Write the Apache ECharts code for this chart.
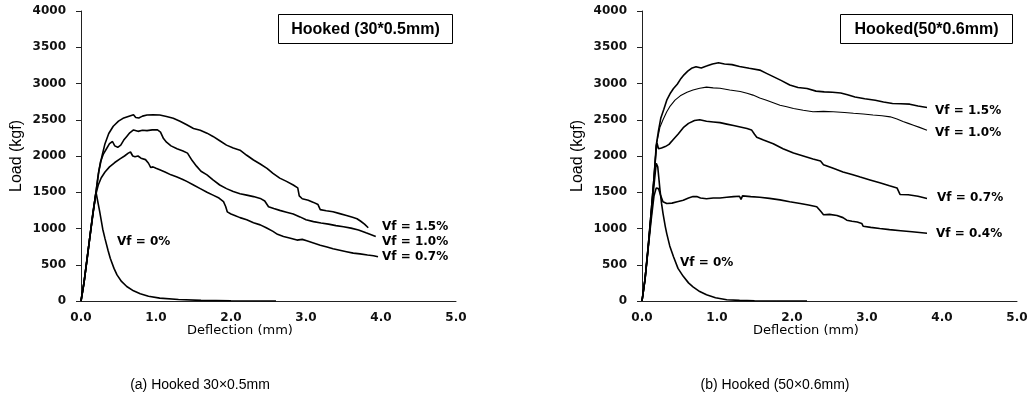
<!DOCTYPE html>
<html>
<head>
<meta charset="utf-8">
<script src="https://cdn.jsdelivr.net/npm/echarts@6/dist/echarts.min.js"></script>
<style>
  html, body { margin: 0; padding: 0; background: #fff; }
  #chart { width: 1035px; height: 407px; }
</style>
</head>
<body>
<div id="chart"></div>
<script>
// axis ticks
const xTicks = ['0.0', '1.0', '2.0', '3.0', '4.0', '5.0']
const yTicks = [0, 500, 1000, 1500, 2000, 2500, 3000, 3500, 4000]

// (a) Hooked 30x0.5mm : [deflection mm, load kgf]
const a00 = [[0, 0], [0.04, 260], [0.08, 580], [0.12, 900], [0.16, 1220], [0.2, 1500], [0.22, 1520], [0.25, 1230],
  [0.29, 990], [0.32, 860], [0.36, 700], [0.39, 590], [0.44, 450], [0.48, 360], [0.54, 270], [0.61, 200], [0.7, 140],
  [0.79, 100], [0.9, 65], [1.05, 40], [1.3, 20], [1.6, 8], [2.0, 3], [2.6, 0]]
const a07 = [[0, 0], [0.04, 250], [0.08, 570], [0.12, 890], [0.16, 1200], [0.2, 1480], [0.23, 1600], [0.27, 1700],
  [0.32, 1780], [0.38, 1850], [0.45, 1910], [0.52, 1960], [0.58, 2000], [0.63, 2040], [0.66, 2055], [0.69, 2000],
  [0.72, 1990], [0.76, 2000], [0.8, 1970], [0.86, 1950], [0.9, 1900], [0.93, 1840], [0.96, 1850], [1.0, 1830],
  [1.05, 1810], [1.12, 1780], [1.2, 1740], [1.28, 1710], [1.35, 1680], [1.41, 1650], [1.5, 1600], [1.59, 1550],
  [1.68, 1500], [1.76, 1460], [1.84, 1420], [1.9, 1370], [1.93, 1300], [1.95, 1230], [2.0, 1200], [2.05, 1180],
  [2.12, 1150], [2.21, 1120], [2.3, 1080], [2.39, 1050], [2.47, 1010], [2.56, 960], [2.62, 920], [2.7, 890],
  [2.78, 870], [2.88, 840], [2.95, 850], [3.01, 830], [3.1, 800], [3.19, 770], [3.28, 745], [3.36, 720], [3.45, 700],
  [3.54, 680], [3.63, 660], [3.72, 650], [3.82, 635], [3.9, 625], [3.96, 610]]
const a10 = [[0, 0], [0.04, 250], [0.08, 570], [0.12, 900], [0.16, 1220], [0.2, 1500], [0.23, 1750], [0.26, 1920],
  [0.3, 2030], [0.34, 2100], [0.38, 2170], [0.42, 2200], [0.45, 2140], [0.49, 2120], [0.53, 2150], [0.57, 2220],
  [0.61, 2270], [0.65, 2320], [0.7, 2360], [0.76, 2340], [0.82, 2355], [0.88, 2350], [0.95, 2360], [1.02, 2360],
  [1.06, 2330], [1.1, 2240], [1.14, 2190], [1.2, 2140], [1.28, 2100], [1.36, 2070], [1.42, 2040], [1.48, 1940],
  [1.54, 1860], [1.6, 1790], [1.68, 1740], [1.76, 1670], [1.85, 1600], [1.94, 1550], [2.03, 1510], [2.12, 1480],
  [2.21, 1460], [2.3, 1440], [2.39, 1415], [2.45, 1380], [2.5, 1300], [2.57, 1275], [2.65, 1250], [2.74, 1225],
  [2.83, 1200], [2.92, 1160], [3.0, 1120], [3.1, 1095], [3.2, 1075], [3.3, 1060], [3.4, 1040], [3.5, 1025],
  [3.6, 1005], [3.7, 980], [3.8, 940], [3.93, 890]]
const a15 = [[0, 0], [0.04, 250], [0.08, 570], [0.12, 900], [0.16, 1220], [0.2, 1510], [0.24, 1800], [0.28, 2000],
  [0.32, 2170], [0.37, 2310], [0.43, 2410], [0.5, 2480], [0.56, 2520], [0.63, 2545], [0.7, 2570], [0.73, 2530],
  [0.77, 2525], [0.82, 2550], [0.88, 2565], [0.96, 2570], [1.05, 2565], [1.14, 2545], [1.23, 2520], [1.32, 2480],
  [1.41, 2430], [1.5, 2380], [1.59, 2355], [1.68, 2315], [1.76, 2270], [1.85, 2210], [1.94, 2150], [2.03, 2110],
  [2.12, 2080], [2.21, 2010], [2.3, 1945], [2.39, 1890], [2.48, 1830], [2.56, 1760], [2.65, 1695], [2.74, 1650],
  [2.83, 1600], [2.89, 1560], [2.91, 1450], [2.95, 1410], [3.03, 1390], [3.1, 1360], [3.16, 1330], [3.19, 1260],
  [3.27, 1245], [3.36, 1230], [3.45, 1205], [3.54, 1180], [3.62, 1155], [3.68, 1135], [3.73, 1100], [3.78, 1060],
  [3.83, 1010]]

// (b) Hooked 50x0.6mm
const b00 = [[0, 0], [0.04, 300], [0.08, 720], [0.12, 1150], [0.16, 1600], [0.19, 1900], [0.21, 1850], [0.24, 1530],
  [0.26, 1350], [0.28, 1210], [0.31, 1030], [0.33, 930], [0.37, 760], [0.42, 610], [0.48, 450], [0.55, 340],
  [0.62, 250], [0.68, 195], [0.77, 130], [0.86, 85], [0.98, 45], [1.13, 18], [1.3, 8], [1.5, 3], [1.8, 0], [2.2, 0]]
const b04 = [[0, 0], [0.04, 290], [0.08, 700], [0.12, 1100], [0.16, 1450], [0.19, 1560], [0.22, 1550], [0.25, 1450],
  [0.28, 1370], [0.33, 1345], [0.4, 1350], [0.47, 1370], [0.55, 1390], [0.62, 1420], [0.68, 1440], [0.73, 1440],
  [0.78, 1420], [0.86, 1410], [0.95, 1420], [1.04, 1420], [1.13, 1430], [1.22, 1440], [1.3, 1445], [1.32, 1400],
  [1.34, 1450], [1.45, 1440], [1.57, 1430], [1.7, 1415], [1.84, 1395], [1.97, 1370], [2.11, 1345], [2.22, 1325],
  [2.33, 1300], [2.38, 1240], [2.42, 1190], [2.5, 1195], [2.6, 1180], [2.68, 1150], [2.73, 1115], [2.8, 1100],
  [2.87, 1090], [2.93, 1070], [2.95, 1030], [3.05, 1015], [3.17, 1000], [3.3, 985], [3.45, 970], [3.6, 955],
  [3.8, 935]]
const b07 = [[0, 0], [0.04, 300], [0.08, 720], [0.12, 1200], [0.16, 1700], [0.19, 2100], [0.2, 2180], [0.22, 2100],
  [0.26, 2110], [0.31, 2130], [0.36, 2160], [0.42, 2230], [0.48, 2300], [0.55, 2390], [0.62, 2450], [0.7, 2490],
  [0.77, 2500], [0.86, 2480], [0.95, 2470], [1.04, 2460], [1.13, 2440], [1.22, 2420], [1.31, 2400], [1.4, 2380],
  [1.46, 2360], [1.5, 2300], [1.53, 2260], [1.62, 2220], [1.75, 2170], [1.88, 2100], [2.02, 2040], [2.15, 2000],
  [2.28, 1960], [2.38, 1930], [2.42, 1880], [2.55, 1830], [2.68, 1780], [2.8, 1745], [2.91, 1710], [3.04, 1670],
  [3.17, 1630], [3.3, 1590], [3.4, 1560], [3.44, 1470], [3.55, 1465], [3.68, 1445], [3.8, 1415]]
const b10 = [[0, 0], [0.04, 300], [0.08, 720], [0.12, 1200], [0.16, 1700], [0.19, 2150], [0.21, 2250], [0.24, 2400],
  [0.28, 2500], [0.33, 2610], [0.37, 2680], [0.44, 2770], [0.51, 2830], [0.6, 2880], [0.68, 2910], [0.77, 2935],
  [0.86, 2950], [0.95, 2940], [1.04, 2935], [1.17, 2910], [1.31, 2890], [1.4, 2865], [1.48, 2840], [1.57, 2800],
  [1.66, 2770], [1.75, 2735], [1.84, 2700], [1.93, 2680], [2.02, 2655], [2.15, 2630], [2.28, 2610], [2.42, 2615],
  [2.55, 2610], [2.7, 2600], [2.82, 2590], [2.95, 2580], [3.08, 2565], [3.2, 2555], [3.31, 2540], [3.4, 2510],
  [3.48, 2475], [3.55, 2450], [3.62, 2425], [3.7, 2395], [3.8, 2355]]
const b15 = [[0, 0], [0.04, 300], [0.08, 720], [0.12, 1200], [0.16, 1700], [0.19, 2150], [0.22, 2350], [0.25, 2520],
  [0.29, 2640], [0.33, 2770], [0.38, 2870], [0.42, 2930], [0.47, 2990], [0.52, 3070], [0.56, 3120], [0.61, 3170],
  [0.66, 3210], [0.72, 3230], [0.79, 3215], [0.86, 3240], [0.94, 3270], [1.02, 3285], [1.1, 3270], [1.2, 3260],
  [1.3, 3235], [1.43, 3210], [1.57, 3185], [1.66, 3140], [1.75, 3095], [1.86, 3040], [1.97, 2980], [2.08, 2945],
  [2.2, 2930], [2.32, 2895], [2.43, 2885], [2.54, 2880], [2.65, 2870], [2.74, 2845], [2.84, 2815], [2.97, 2790],
  [3.11, 2770], [3.22, 2745], [3.34, 2725], [3.45, 2720], [3.57, 2715], [3.68, 2690], [3.8, 2670]]

const chart = echarts.init(document.getElementById('chart'))

const tickFont = {
  fontFamily: 'DejaVu Sans',
  fontWeight: 'bold',
  fontSize: 12,
  color: '#111',
}
const vfFont = {
  fill: '#000',
  font: 'bold 12px "DejaVu Sans"',
  align: 'left',
  verticalAlign: 'middle',
}

function makeX(idx) {
  return {
    type: 'value',
    gridIndex: idx,
    min: 0,
    max: 5,
    interval: 1,
    axisLine: { lineStyle: { color: '#222', width: 1 } },
    axisTick: { show: false },
    splitLine: { show: false },
    axisLabel: Object.assign({ margin: 11, formatter: (v) => xTicks[Math.round(v)] }, tickFont),
  }
}

function makeY(idx) {
  return {
    type: 'value',
    gridIndex: idx,
    min: yTicks[0],
    max: yTicks[yTicks.length - 1],
    interval: 500,
    name: 'Load (kgf)',
    nameLocation: 'middle',
    nameGap: 56,
    nameTextStyle: { fontFamily: 'Liberation Sans', fontSize: 16, color: '#000' },
    axisLine: { show: true, lineStyle: { color: '#222', width: 1 } },
    axisTick: { show: true, length: 5, lineStyle: { color: '#222' } },
    splitLine: { show: false },
    axisLabel: Object.assign({ margin: 15, formatter: (v) => String(v) }, tickFont),
  }
}

function line(data, g, w) {
  return {
    type: 'line',
    data: data,
    xAxisIndex: g,
    yAxisIndex: g,
    showSymbol: false,
    smooth: false,
    lineStyle: { color: '#000', width: w || 1.6 },
  }
}

function vfText(txt, x, y) {
  return { type: 'text', left: x, top: y - 7, style: Object.assign({ text: txt }, vfFont) }
}

function centerText(txt, cx, cy, font) {
  return { type: 'text', x: cx, y: cy,
    style: { text: txt, font: font, fill: '#000', align: 'center', verticalAlign: 'middle' } }
}

function boxTitle(txt, x, w) {
  return {
    type: 'group',
    left: x,
    top: 14,
    children: [
      { type: 'rect', shape: { x: 0, y: 0, width: w, height: 29 }, style: { fill: '#fff', stroke: '#000', lineWidth: 1 } },
      { type: 'text', style: { text: txt, x: w / 2, y: 15, align: 'center', verticalAlign: 'middle',
        font: 'bold 16px "Liberation Sans"', fill: '#000' } },
    ],
  }
}

const option = {
  animation: false,
  backgroundColor: '#fff',
  grid: [
    { left: 81, top: 11, width: 375, height: 290 },
    { left: 642, top: 11, width: 375, height: 290 },
  ],
  xAxis: [makeX(0), makeX(1)],
  yAxis: [makeY(0), makeY(1)],
  series: [
    line(a00, 0), line(a07, 0), line(a10, 0), line(a15, 0),
    line(b00, 1), line(b04, 1), line(b07, 1), line(b10, 1, 1.1), line(b15, 1),
  ],
  graphic: [
    boxTitle('Hooked (30*0.5mm)', 278, 174),
    boxTitle('Hooked(50*0.6mm)', 840, 172),
    vfText('Vf = 1.5%', 382, 228),
    vfText('Vf = 1.0%', 382, 243),
    vfText('Vf = 0.7%', 382, 258),
    vfText('Vf = 0%', 117, 243),
    vfText('Vf = 1.5%', 935, 112),
    vfText('Vf = 1.0%', 935, 134),
    vfText('Vf = 0.7%', 937, 199),
    vfText('Vf = 0.4%', 936, 235),
    vfText('Vf = 0%', 680, 264),
    centerText('Deflection (mm)', 240, 331, '13px "DejaVu Sans"'),
    centerText('Deflection (mm)', 806, 331, '13px "DejaVu Sans"'),
    centerText('(a) Hooked 30×0.5mm', 200, 385, '14px "Liberation Sans"'),
    centerText('(b) Hooked (50×0.6mm)', 775, 385, '14px "Liberation Sans"'),
  ],
}

chart.setOption(option)
</script>
</body>
</html>
